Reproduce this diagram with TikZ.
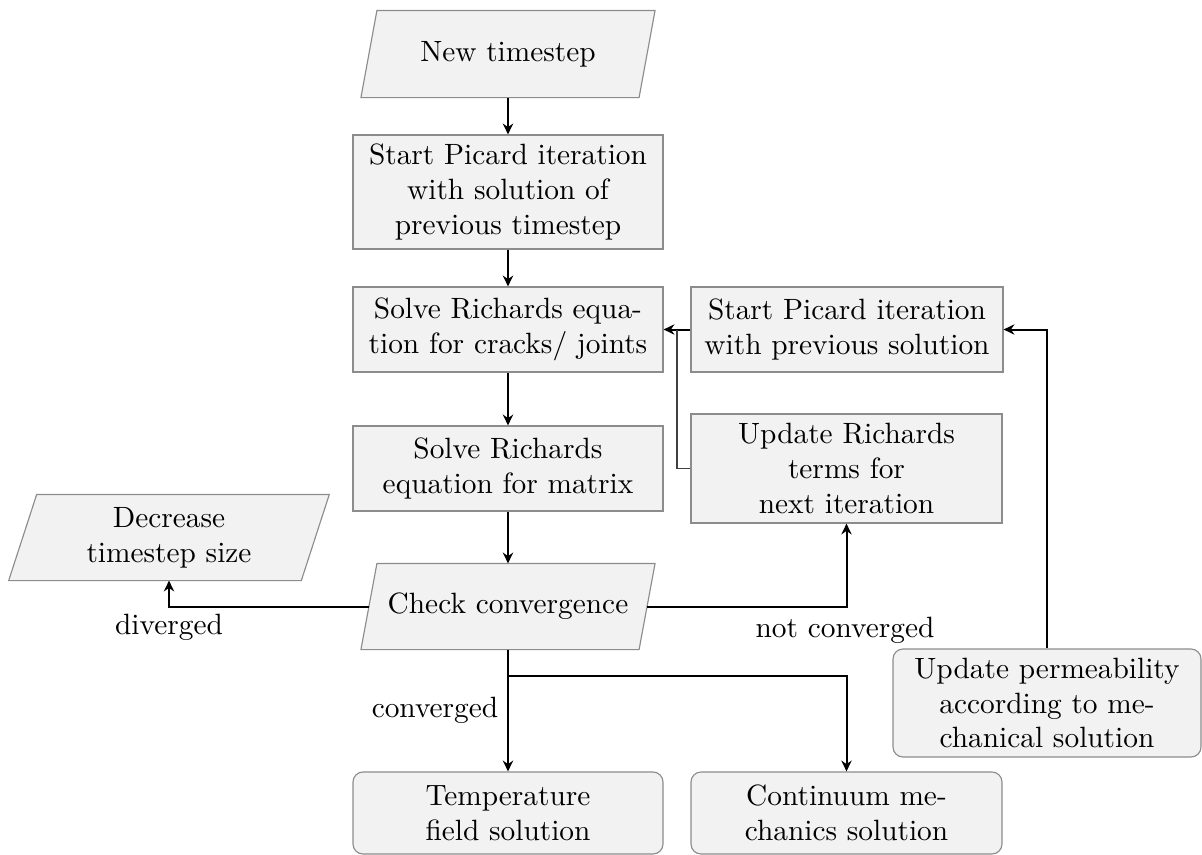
\documentclass[tikz,border=0pt]{standalone}
\usetikzlibrary{arrows.meta,calc,backgrounds}

% one drawing unit
\def\PX{0.35088pt}

\definecolor{boxfill}{HTML}{F2F2F2}
\definecolor{boxline}{HTML}{8C8C8C}

\tikzset{
  base/.style={inner sep=0pt, align=center},
  procbox/.style={base, rectangle, draw=boxline, fill=boxfill, line width=0.4pt},
  roundbox/.style={procbox, rounded corners=3.5pt},
  iobox/.style={base, rectangle},
  iofill/.style={draw=boxline, fill=boxfill, line width=0.4pt},
  flow/.style={-{Stealth[length=3.8pt,width=3.6pt]}, line width=0.7pt},
  link/.style={line width=0.4pt, draw=black!75},
  lbl/.style={inner sep=0pt}
}

% slanted input/output outline behind a named node
\newcommand\iopath[2]{%
  \path[iofill] ([xshift=#2]#1.north west) -- ([xshift=#2]#1.north east)
    -- ([xshift=-#2]#1.south east) -- ([xshift=-#2]#1.south west) -- cycle;}

\begin{document}
\begin{tikzpicture}[x=\PX, y=-\PX, every node/.append style={font=\fontsize{10.3}{12.2}\selectfont}]
\useasboundingbox (0,0) rectangle (1202,855);

% main column
\node[iobox, minimum width=277*\PX, minimum height=86*\PX] (nt) at (508,54) {New timestep};
\node[procbox, minimum width=310*\PX, minimum height=114*\PX] (sp) at (508,192)
  {Start Picard iteration\\ with solution of\\ previous timestep};
\node[procbox, minimum width=310*\PX, minimum height=85*\PX] (sc) at (508,329.5)
  {Solve Richards equa-\\ tion for cracks/ joints};
\node[procbox, minimum width=310*\PX, minimum height=85*\PX] (sm) at (508,468.5)
  {Solve Richards\\ equation for matrix};
\node[iobox, minimum width=277*\PX, minimum height=85*\PX] (cc) at (508,606.5) {Check convergence};

% side boxes
\node[procbox, minimum width=312*\PX, minimum height=85*\PX] (pp) at (847,329.5)
  {Start Picard iteration\\ with previous solution};
\node[procbox, minimum width=311*\PX, minimum height=109*\PX] (ur) at (846.5,468.5)
  {Update Richards\\ terms for\\ next iteration};
\node[iobox, minimum width=291.5*\PX, minimum height=85*\PX] (dt) at (169,537.5)
  {Decrease\\ timestep size};
\node[roundbox, minimum width=308*\PX, minimum height=108*\PX] (upm) at (1047,703)
  {Update permeability\\ according to me-\\ chanical solution};

% results
\node[roundbox, minimum width=310*\PX, minimum height=82*\PX] (tf) at (508,813)
  {Temperature\\ field solution};
\node[roundbox, minimum width=311*\PX, minimum height=82*\PX] (cm) at (846.5,813)
  {Continuum me-\\ chanics solution};

\begin{pgfonlayer}{background}
  \iopath{nt}{8*\PX}
  \iopath{cc}{8*\PX}
  \iopath{dt}{14*\PX}
\end{pgfonlayer}

% connectors
\draw[flow] (nt.south) -- (sp.north);
\draw[flow] (sp.south) -- (sc.north);
\draw[flow] (sc.south) -- (sm.north);
\draw[flow] (sm.south) -- (cc.north);

\draw[flow] (cc.west) -| (dt.south);
\node[lbl] (ldiv) at (169,627) {diverged};

\draw[flow] (cc.east) -| (ur.south);
\node[lbl] (lnot) at (845,630) {not converged};

\coordinate (br) at (cc.south |- 0,676);
\draw[flow] (cc.south) -- (tf.north);
\draw[flow] (br) -| (cm.north);
\node[lbl] (lconv) at (435,710) {converged};

\draw[flow] (upm.north) |- (pp.east);
\draw[flow] (pp.west) -- (sc.east);
\coordinate (join) at ($(sc.east)!0.5!(pp.west)$);
\draw[link] (ur.west) -| (join);
\end{tikzpicture}
\end{document}
